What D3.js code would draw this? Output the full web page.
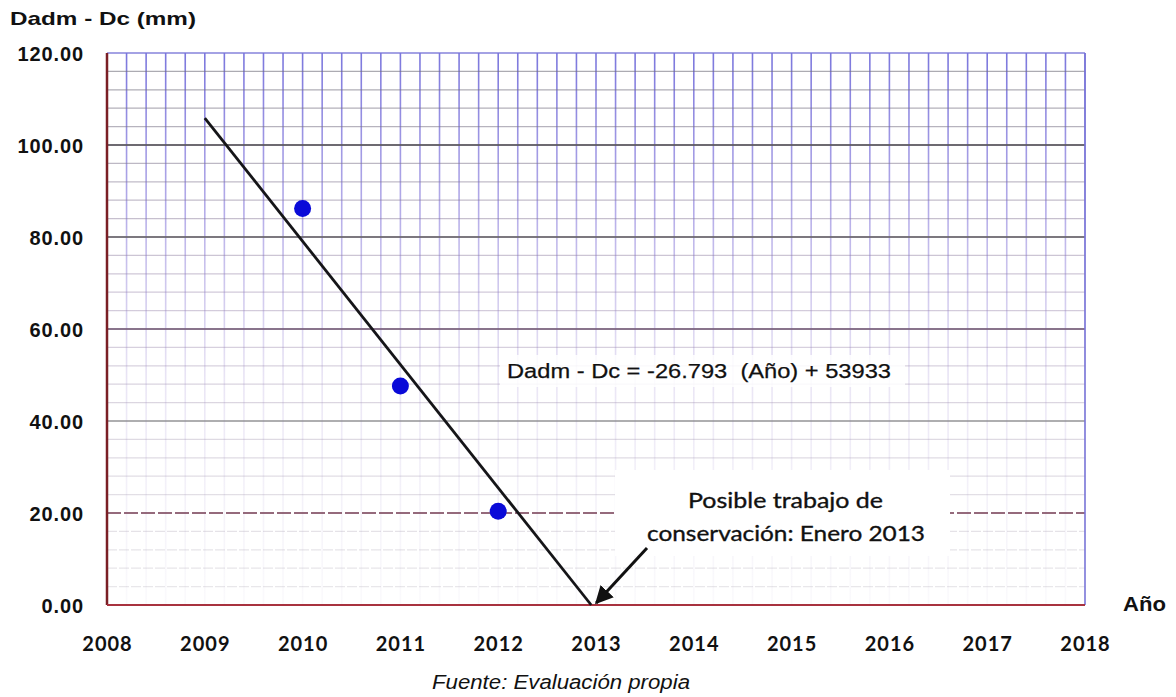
<!DOCTYPE html>
<html>
<head>
<meta charset="utf-8">
<script src="https://cdn.jsdelivr.net/npm/d3@7"></script>
<style>
  html, body { margin: 0; padding: 0; background: #fff; }
  svg { display: block; }
</style>
</head>
<body>
<svg id="chart" width="1176" height="697"></svg>
<script>
// Measured values per year (Dadm - Dc, mm)
const years = [2010, 2011, 2012];
const values = [86.2, 47.6, 20.4];

// Linear fit: Dadm - Dc = slope * Año + intercept
const slope = -26.793;
const intercept = 53933;
const trendStartYear = 2009;

// Axis ticks
const xTicks = [2008, 2009, 2010, 2011, 2012, 2013, 2014, 2015, 2016, 2017, 2018];
const yTicks = [0, 20, 40, 60, 80, 100, 120];
const yTickLabels = ["0.00", "20.00", "40.00", "60.00", "80.00", "100.00", "120.00"];

const svg = d3.select("#chart");
const plotLeft = 107, plotRight = 1085, plotTop = 53, plotBottom = 605;

const x = d3.scaleLinear().domain([2008, 2018]).range([plotLeft, plotRight]);
const y = d3.scaleLinear().domain([0, 120]).range([plotBottom, plotTop]);

// Paper-like grid colours that fade toward the bottom
const defs = svg.append("defs");
const gv = defs.append("linearGradient").attr("id", "gridV")
  .attr("gradientUnits", "userSpaceOnUse")
  .attr("x1", 0).attr("y1", plotTop).attr("x2", 0).attr("y2", plotBottom);
gv.append("stop").attr("offset", "0").attr("stop-color", "rgb(100,95,215)").attr("stop-opacity", 0.85);
gv.append("stop").attr("offset", "0.3").attr("stop-color", "rgb(125,110,215)").attr("stop-opacity", 0.55);
gv.append("stop").attr("offset", "0.6").attr("stop-color", "rgb(160,140,210)").attr("stop-opacity", 0.22);
gv.append("stop").attr("offset", "1").attr("stop-color", "rgb(190,180,215)").attr("stop-opacity", 0.07);

const gh = defs.append("linearGradient").attr("id", "gridH")
  .attr("gradientUnits", "userSpaceOnUse")
  .attr("x1", 0).attr("y1", plotTop).attr("x2", 0).attr("y2", plotBottom);
gh.append("stop").attr("offset", "0").attr("stop-color", "rgb(110,110,120)").attr("stop-opacity", 0.6);
gh.append("stop").attr("offset", "0.45").attr("stop-color", "rgb(150,130,170)").attr("stop-opacity", 0.42);
gh.append("stop").attr("offset", "1").attr("stop-color", "rgb(170,165,175)").attr("stop-opacity", 0.25);

const grid = svg.append("g");

// Minor vertical lines every 0.2 year
const vMinor = d3.range(0, 51).map(i => 2008 + i * 0.2);
grid.selectAll("line.v").data(vMinor).join("line")
  .attr("x1", d => x(d)).attr("x2", d => x(d))
  .attr("y1", plotTop).attr("y2", plotBottom)
  .attr("stroke", "url(#gridV)").attr("stroke-width", 1.6);

// Minor horizontal lines every 4 units
const hMinor = d3.range(0, 31).map(i => i * 4).filter(v => v % 20 !== 0);
grid.selectAll("line.h").data(hMinor).join("line")
  .attr("x1", plotLeft).attr("x2", plotRight)
  .attr("y1", d => y(d)).attr("y2", d => y(d))
  .attr("stroke", "url(#gridH)").attr("stroke-width", 1.3)
  .attr("stroke-dasharray", d => d < 20 ? "10,2" : null);

// Major horizontal lines every 20 units
const majorColors = { 20: "#8a5a6e", 40: "#8c8c90", 60: "#7d6580", 80: "#6e6a72", 100: "#5e5a62", 120: "#7a76d8" };
grid.selectAll("line.major").data(yTicks.filter(v => v > 0)).join("line")
  .attr("x1", plotLeft).attr("x2", plotRight)
  .attr("y1", d => y(d)).attr("y2", d => y(d))
  .attr("stroke", d => majorColors[d])
  .attr("stroke-width", d => d === 120 ? 1.6 : 2)
  .attr("stroke-dasharray", d => d === 20 ? "14,3" : null)
  .attr("opacity", d => d === 40 ? 0.7 : 0.9);

// Right border
grid.append("line")
  .attr("x1", plotRight).attr("x2", plotRight).attr("y1", plotTop).attr("y2", plotBottom)
  .attr("stroke", "#7a76d8").attr("stroke-width", 1.6);

// Note box and equation backgrounds
svg.append("rect").attr("x", 615).attr("y", 470).attr("width", 335).attr("height", 86).attr("fill", "#fff");
svg.append("rect").attr("x", 500).attr("y", 355).attr("width", 405).attr("height", 32).attr("fill", "#fff").attr("opacity", 0.85);

// Axes lines
svg.append("line").attr("x1", plotLeft).attr("x2", plotLeft).attr("y1", plotTop).attr("y2", plotBottom)
  .attr("stroke", "#7a1f25").attr("stroke-width", 2.5);
svg.append("line").attr("x1", plotLeft).attr("x2", plotRight).attr("y1", plotBottom).attr("y2", plotBottom)
  .attr("stroke", "#a8323f").attr("stroke-width", 2.2);

// Tick labels
const yAxis = d3.axisLeft(y).tickValues(yTicks).tickSize(0).tickPadding(0)
  .tickFormat((d, i) => yTickLabels[i]);
const yg = svg.append("g").attr("transform", `translate(${plotLeft - 23},0)`).call(yAxis);
yg.select(".domain").remove();
yg.selectAll("text")
  .attr("font-family", "Liberation Sans, Arial, sans-serif")
  .attr("font-weight", "bold").attr("font-size", 20)
  .attr("letter-spacing", 0.9).attr("fill", "#111").attr("dy", "0.36em");

const xAxis = d3.axisBottom(x).tickValues(xTicks).tickSize(0).tickPadding(0).tickFormat(d3.format("d"));
const xg = svg.append("g").attr("transform", `translate(0,${plotBottom})`).call(xAxis);
xg.select(".domain").remove();
xg.selectAll("text")
  .attr("font-family", "Lato, sans-serif")
  .attr("font-weight", "bold").attr("font-size", 20)
  .attr("letter-spacing", 1).attr("fill", "#111")
  .attr("y", 46).attr("dy", 0);

// Trend line
const zeroYear = -intercept / slope;
const trendYears = [trendStartYear, zeroYear];
const line = d3.line().x(d => x(d)).y(d => y(slope * d + intercept));
svg.append("path").datum(trendYears).attr("d", line)
  .attr("fill", "none").attr("stroke", "#151518").attr("stroke-width", 2.8);

// Data points
svg.selectAll("circle.pt").data(years).join("circle")
  .attr("cx", d => x(d)).attr("cy", (d, i) => y(values[i]))
  .attr("r", 8.5).attr("fill", "#0a0ad8");

// Texts
svg.append("text").attr("x", 10).attr("y", 25)
  .attr("font-family", "Liberation Sans, Arial, sans-serif").attr("font-weight", "bold")
  .attr("font-size", 19).attr("textLength", 186).attr("lengthAdjust", "spacingAndGlyphs")
  .attr("fill", "#111")
  .text("Dadm - Dc (mm)");

svg.append("text").attr("x", 1123).attr("y", 611)
  .attr("font-family", "Liberation Sans, Arial, sans-serif").attr("font-weight", "bold")
  .attr("font-size", 21).attr("textLength", 43).attr("lengthAdjust", "spacingAndGlyphs")
  .attr("fill", "#111").text("Año");

svg.append("text").attr("x", 507).attr("y", 378)
  .attr("font-family", "Liberation Sans, Arial, sans-serif")
  .attr("font-size", 20.5).attr("textLength", 384).attr("lengthAdjust", "spacingAndGlyphs")
  .attr("fill", "#111").attr("stroke", "#111").attr("stroke-width", 0.25)
  .attr("xml:space", "preserve")
  .text("Dadm - Dc = -26.793  (Año) + 53933");

const note = svg.append("g")
  .attr("font-family", "Lato, sans-serif").attr("font-size", 22).attr("fill", "#111")
  .attr("stroke", "#111").attr("stroke-width", 0.35);
note.append("text").attr("x", 688).attr("y", 508)
  .attr("textLength", 195).attr("lengthAdjust", "spacingAndGlyphs")
  .text("Posible trabajo de");
note.append("text").attr("x", 647).attr("y", 541)
  .attr("textLength", 278).attr("lengthAdjust", "spacingAndGlyphs")
  .text("conservación: Enero 2013");

// Arrow pointing at the zero crossing
defs.append("marker").attr("id", "arrowHead")
  .attr("viewBox", "0 0 10 10").attr("refX", 9).attr("refY", 5)
  .attr("markerWidth", 6).attr("markerHeight", 6).attr("orient", "auto")
  .append("path").attr("d", "M0,0 L10,5 L0,10 Z").attr("fill", "#111");
svg.append("line").attr("x1", 647).attr("y1", 548).attr("x2", x(zeroYear) + 5).attr("y2", plotBottom - 2)
  .attr("stroke", "#111").attr("stroke-width", 3).attr("marker-end", "url(#arrowHead)");

svg.append("text").attr("x", 432).attr("y", 689)
  .attr("font-family", "Liberation Sans, Arial, sans-serif").attr("font-style", "italic")
  .attr("font-size", 20).attr("textLength", 258).attr("lengthAdjust", "spacingAndGlyphs")
  .attr("fill", "#111")
  .text("Fuente: Evaluación propia");
</script>
</body>
</html>
